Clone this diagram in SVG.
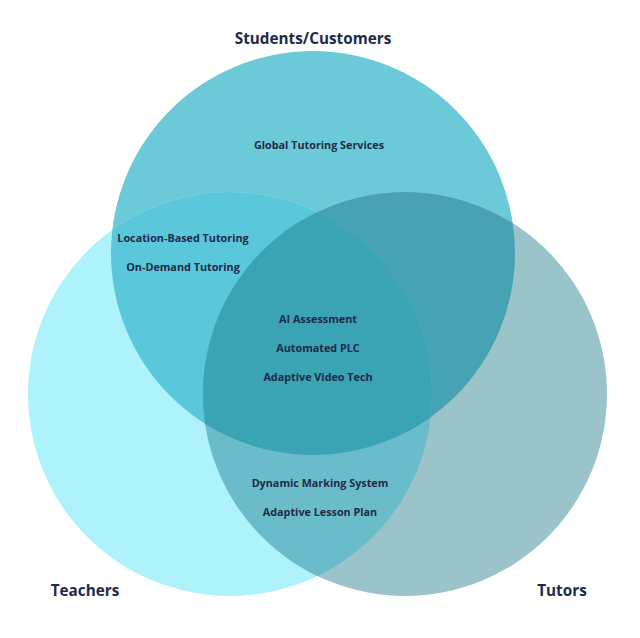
<svg xmlns="http://www.w3.org/2000/svg" width="640" height="638" viewBox="0 0 640 638">
  <style>
    .lbl { font-family: "Open Sans", "Liberation Sans", sans-serif; font-weight: 700; fill: #1f2a48; text-anchor: middle; }
    .set { font-size: 15.3px; }
    .item { font-size: 10.8px; }
  </style>
  <defs>
    <clipPath id="clipT"><circle cx="313" cy="253" r="202"/></clipPath>
    <clipPath id="clipL"><circle cx="230" cy="394" r="202"/></clipPath>
    <clipPath id="clipR"><circle cx="405" cy="394" r="202"/></clipPath>
  </defs>
  <rect width="640" height="638" fill="#ffffff"/>
  <g id="students">
    <circle cx="313" cy="253" r="202" fill="#6ccad8"/>
  </g>
  <g id="teachers">
    <circle cx="230" cy="394" r="202" fill="#aef2fc"/>
  </g>
  <g id="tutors">
    <circle cx="405" cy="394" r="202" fill="#9bc4ca"/>
  </g>
  <g id="overlaps">
    <g clip-path="url(#clipL)"><circle cx="313" cy="253" r="202" fill="#5ac8da"/></g>
    <g clip-path="url(#clipR)"><circle cx="313" cy="253" r="202" fill="#47a3b3"/></g>
    <g clip-path="url(#clipR)"><circle cx="230" cy="394" r="202" fill="#6bbccb"/></g>
    <g clip-path="url(#clipR)"><g clip-path="url(#clipL)"><circle cx="313" cy="253" r="202" fill="#3aa3b4"/></g></g>
  </g>
  <g id="labels">
    <text class="lbl set" x="313" y="44">Students/Customers</text>
    <text class="lbl set" x="85" y="596">Teachers</text>
    <text class="lbl set" x="562" y="596">Tutors</text>
    <text class="lbl item" x="319" y="149">Global Tutoring Services</text>
    <text class="lbl item" x="183" y="242">Location-Based Tutoring</text>
    <text class="lbl item" x="183" y="271">On-Demand Tutoring</text>
    <text class="lbl item" x="318" y="323">AI Assessment</text>
    <text class="lbl item" x="318" y="352">Automated PLC</text>
    <text class="lbl item" x="318" y="381">Adaptive Video Tech</text>
    <text class="lbl item" x="320" y="487">Dynamic Marking System</text>
    <text class="lbl item" x="320" y="516">Adaptive Lesson Plan</text>
  </g>
</svg>
